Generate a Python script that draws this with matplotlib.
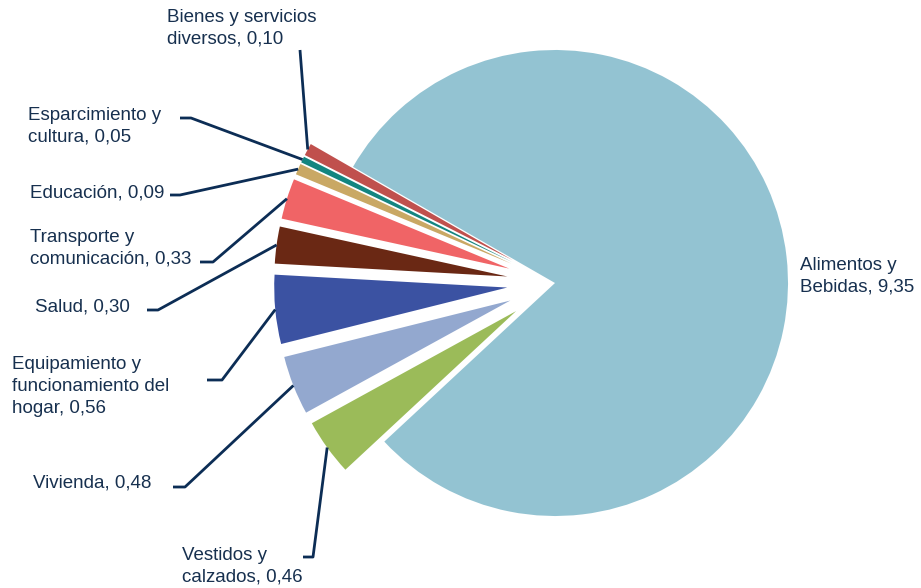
import numpy as np
import matplotlib
matplotlib.use('Agg')
import matplotlib.pyplot as plt

# data
labels = ['Alimentos y\nBebidas, 9,35', 'Bienes y servicios\ndiversos, 0,10',
          'Esparcimiento y\ncultura, 0,05', 'Educación, 0,09',
          'Transporte y\ncomunicación, 0,33', 'Salud, 0,30',
          'Equipamiento y\nfuncionamiento del\nhogar, 0,56', 'Vivienda, 0,48',
          'Vestidos y\ncalzados, 0,46']
values = [9.35, 0.10, 0.05, 0.09, 0.33, 0.30, 0.56, 0.48, 0.46]
colors = ['#93c3d2', '#c0504d', '#138580', '#c9a864', '#f06466',
          '#6a2814', '#3b52a2', '#93a8cf', '#9bbb59']

W, H = 921, 588
CX, CY, R = 555, 283, 233.0   # pie center / radius in pixels


def px(x, y):
    return (x - CX) / R, (CY - y) / R


fig = plt.figure(figsize=(W / 100, H / 100), dpi=100)
ax = fig.add_axes([0, 0, 1, 1])

# only the small slices are pulled out
explode = [0] + [48 / R] * (len(values) - 1)
frac0 = values[0] / sum(values)
start = 6.5 - frac0 * 180
wedges, _ = ax.pie(values, colors=colors, explode=explode, startangle=start,
                   counterclock=True, radius=1, center=(0, 0),
                   wedgeprops=dict(linewidth=0))

# pie() resets the limits, so set them afterwards
ax.set_xlim(px(0, 0)[0], px(W, 0)[0])
ax.set_ylim(px(0, H)[1], px(0, 0)[1])
ax.set_aspect('equal')
ax.axis('off')

txt_color = '#17304f'
line_color = '#0c2d55'
font = dict(family='Liberation Sans', fontsize=13.5, color=txt_color,
            linespacing=1.37)

# label positions (pixels): text top-left, then leader elbow points
layout = {
    1: dict(xy=(167, 9), pts=[(300, 50)]),
    2: dict(xy=(28, 107), pts=[(180, 118), (191, 118)]),
    3: dict(xy=(30, 184), pts=[(170, 195), (180, 195)]),
    4: dict(xy=(30, 229), pts=[(200, 262), (213, 262)]),
    5: dict(xy=(35, 298), pts=[(147, 310), (158, 310)]),
    6: dict(xy=(12, 356), pts=[(207, 380), (222, 380)]),
    7: dict(xy=(33, 474), pts=[(173, 487), (185, 487)]),
    8: dict(xy=(182, 547), pts=[(303, 557), (313, 557)]),
}

for i, w in enumerate(wedges):
    if i == 0:
        x, y = px(800, 257)
        ax.text(x, y, labels[i], ha='left', va='top', **font)
        continue
    lay = layout[i]
    x, y = px(*lay['xy'])
    ax.text(x, y, labels[i], ha='left', va='top', **font)
    mid = np.deg2rad((w.theta1 + w.theta2) / 2)
    cx, cy = w.center
    ex, ey = cx + w.r * np.cos(mid), cy + w.r * np.sin(mid)
    xs = [px(*p)[0] for p in lay['pts']] + [ex]
    ys = [px(*p)[1] for p in lay['pts']] + [ey]
    ax.plot(xs, ys, color=line_color, lw=2, solid_capstyle='butt')

fig.savefig('out.png', dpi=100, facecolor='white')
